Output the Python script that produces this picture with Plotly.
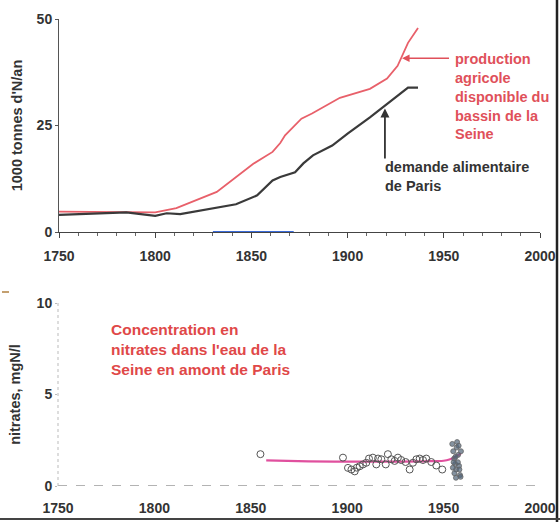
import plotly.graph_objects as go

# ---------------- data ----------------
prod_years = [1750, 1800, 1811, 1832, 1851, 1861, 1865, 1867.5, 1876, 1881.5, 1896, 1911.6, 1920.5, 1926, 1931.4, 1936.6]
prod_vals = [4.8, 4.6, 5.6, 9.4, 16.0, 18.8, 20.9, 22.7, 26.6, 27.8, 31.5, 33.6, 36.0, 39.0, 44.4, 47.9]

dem_years = [1750, 1785, 1800, 1806, 1813, 1832, 1842, 1853, 1861, 1865, 1872.7, 1877, 1882, 1892, 1900, 1911.6, 1919.4, 1931.4, 1936.6]
dem_vals = [4.0, 4.6, 3.8, 4.4, 4.2, 5.6, 6.5, 8.6, 12.1, 12.9, 14.0, 16.1, 18.0, 20.3, 23.1, 26.9, 29.7, 33.9, 33.9]

blue_years = [1830, 1872]
blue_vals = [0.1, 0.1]

nit_years = [1855, 1897.8, 1900.4, 1902.2, 1903.9, 1905, 1906.5, 1908.2, 1909.9, 1911.3, 1913.3,
             1915.1, 1916, 1917.7, 1920, 1921.1, 1922.9, 1924.6, 1926.3, 1928, 1930.3, 1932.4,
             1934.1, 1935.9, 1937.6, 1939.3, 1941, 1943.6, 1946.2, 1949.3]
nit_vals = [1.74, 1.55, 0.99, 0.9, 0.8, 1.0, 1.08, 1.18, 1.27, 1.5, 1.55,
            1.18, 1.5, 1.46, 1.18, 1.74, 1.46, 1.37, 1.55, 1.42, 1.31, 0.9,
            1.27, 1.46, 1.5, 1.42, 1.5, 1.31, 1.12, 0.9]

recent_years = [1954.5, 1955, 1955.5, 1956, 1956.5, 1957, 1957.5, 1958, 1958.5, 1959,
                1954.8, 1955.6, 1956.2, 1956.8, 1957.4, 1958.2, 1958.8, 1955.2, 1957.8, 1956.4]
recent_vals = [2.3, 1.9, 1.5, 1.2, 0.9, 2.4, 1.7, 1.1, 0.6, 1.9,
               1.0, 0.7, 1.6, 2.1, 1.3, 0.9, 0.5, 1.3, 2.2, 0.45]

trend_years = [1858, 1880, 1900, 1920, 1940, 1950, 1953, 1956, 1959]
trend_vals = [1.40, 1.35, 1.33, 1.33, 1.35, 1.38, 1.45, 1.6, 1.78]

x_ticks = [1750, 1800, 1850, 1900, 1950, 2000]
y1_ticks = [0, 25, 50]
y2_ticks = [0, 5, 10]

FONT = "Liberation Sans, Arial, sans-serif"
RED = "#e0505a"
DARK = "#333333"

W, H = 560, 522


def px(x):
    return x / W


def py(y):
    return 1 - y / H


fig = go.Figure()
fig.add_trace(go.Scatter(x=prod_years, y=prod_vals, mode="lines",
                         line=dict(color="#e8606a", width=1.8), xaxis="x", yaxis="y"))
fig.add_trace(go.Scatter(x=dem_years, y=dem_vals, mode="lines",
                         line=dict(color="#3a3a3a", width=2.2), xaxis="x", yaxis="y"))
fig.add_trace(go.Scatter(x=blue_years, y=blue_vals, mode="lines",
                         line=dict(color="#3a6ad8", width=1.3), xaxis="x", yaxis="y", cliponaxis=False))

fig.add_trace(go.Scatter(x=trend_years, y=trend_vals, mode="lines", line_shape="spline",
                         line=dict(color="#e0509e", width=2.2), xaxis="x2", yaxis="y2"))
fig.add_trace(go.Scatter(x=nit_years, y=nit_vals, mode="markers",
                         marker=dict(symbol="circle-open", size=7, color="#555555",
                                     line=dict(width=1)), xaxis="x2", yaxis="y2"))
fig.add_trace(go.Scatter(x=recent_years, y=recent_vals, mode="markers",
                         marker=dict(symbol="circle", size=5, color="rgba(80,100,120,0.7)",
                                     line=dict(width=0.8, color="#666")), xaxis="x2", yaxis="y2"))

tickfont = dict(family=FONT, size=14, color=DARK, weight="bold")

fig.update_layout(
    width=W, height=H, margin=dict(l=0, r=0, t=0, b=0),
    paper_bgcolor="white", plot_bgcolor="white", showlegend=False,
    xaxis=dict(domain=[px(59), px(540)], range=[1750, 2000], tickmode="linear", tick0=x_ticks[0], dtick=50,
               showgrid=False, zeroline=False, automargin=False, layer="below traces",
               showline=True, linecolor="#444", linewidth=1.2, ticks="outside", ticklen=5,
               tickcolor="#444", tickfont=tickfont, ticklabelstandoff=6, anchor="y",
               minor=dict(dtick=10, ticks="outside", ticklen=3, tickcolor="#666", showgrid=False)),
    yaxis=dict(domain=[py(232), py(19)], range=[0, 50], tickvals=y1_ticks,
               showgrid=False, zeroline=False, showline=True, linecolor="#555", linewidth=1,
               automargin=False, layer="below traces",
               ticks="outside", ticklen=3, tickcolor="#555", tickfont=tickfont, anchor="x",
               title=dict(text="1000 tonnes d'N/an", font=dict(family=FONT, size=14.5, color=DARK, weight="bold"),
                          standoff=10)),
    xaxis2=dict(domain=[px(58), px(540)], range=[1750, 2000], tickvals=x_ticks, showgrid=False,
                zeroline=False, showline=False, ticks="", tickfont=tickfont, ticklabelstandoff=12,
                anchor="y2", automargin=False),
    yaxis2=dict(domain=[py(486), py(303)], range=[0, 10], tickvals=y2_ticks,
                showgrid=False, zeroline=False, showline=False, ticks="outside", ticklen=2,
                tickcolor="#bbb", tickfont=tickfont, anchor="x2", automargin=False,
                title=dict(text="nitrates, mgN/l", font=dict(family=FONT, size=14.5, color=DARK, weight="bold"),
                           standoff=12)),
    shapes=[
        dict(type="line", xref="x2 domain", yref="y2", x0=0, x1=1, y0=0, y1=0,
             line=dict(color="#666", width=1, dash="dash")),
        dict(type="line", xref="x2 domain", yref="y2 domain", x0=0, x1=0, y0=0, y1=1,
             line=dict(color="#bbb", width=1, dash="dot")),
        dict(type="line", xref="paper", yref="paper", x0=px(557), x1=px(557), y0=0, y1=1,
             line=dict(color="#222", width=2.5)),
        dict(type="line", xref="paper", yref="paper", x0=0, x1=1, y0=py(519), y1=py(519),
             line=dict(color="#444", width=2)),
        dict(type="line", xref="paper", yref="paper", x0=px(2), x1=px(9), y0=py(292), y1=py(292),
             line=dict(color="#b08040", width=1.5)),
    ],
    annotations=[
        dict(text="production<br>agricole<br>disponible du<br>bassin de la<br>Seine",
             xref="x", yref="y", x=1954.8, y=42.9, xanchor="left", yanchor="top", align="left",
             showarrow=False, font=dict(family=FONT, size=14.5, color=RED, weight="bold")),
        dict(text="demande alimentaire<br>de Paris",
             xref="x", yref="y", x=1918.2, y=17.6, xanchor="left", yanchor="top", align="left",
             showarrow=False, font=dict(family=FONT, size=14.5, color=DARK, weight="bold")),
        dict(text="", xref="x", yref="y", x=1928.3, y=40.8, axref="x", ayref="y", ax=1953.5, ay=40.8,
             showarrow=True, arrowhead=2, arrowsize=1, arrowwidth=1.5, arrowcolor=RED, standoff=0),
        dict(text="", xref="x", yref="y", x=1919.4, y=29.0, axref="x", ayref="y", ax=1919.4, ay=16.9,
             showarrow=True, arrowhead=2, arrowsize=1, arrowwidth=1.8, arrowcolor=DARK, standoff=0),
        dict(text="Concentration en<br>nitrates dans l'eau de la<br>Seine en amont de Paris",
             xref="x2", yref="y2", x=1776.5, y=9.15, xanchor="left", yanchor="top", align="left",
             showarrow=False, font=dict(family=FONT, size=15.5, color="#e04848", weight="bold")),
    ],
)

fig.write_html("out.html", config={"displayModeBar": False},
               post_script="document.body.style.margin='0';document.body.style.overflow='hidden';")
